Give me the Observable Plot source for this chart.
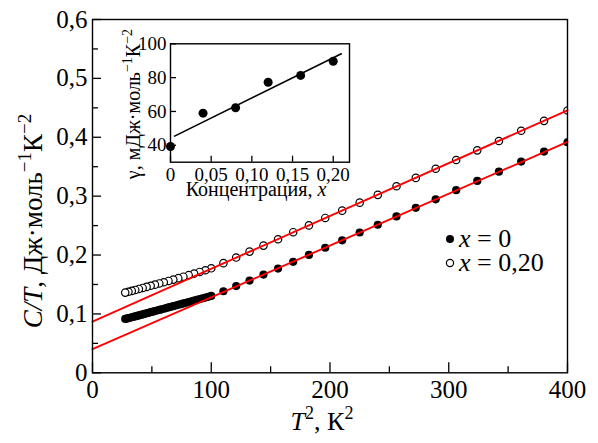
<!DOCTYPE html>
<html><head><meta charset="utf-8">
<script src="https://cdn.jsdelivr.net/npm/d3@7"></script>
<script src="https://cdn.jsdelivr.net/npm/@observablehq/plot@0.6"></script>
<style>
body{margin:0;background:#fff}
#wrap{position:relative;width:598px;height:443px}
#wrap svg{position:absolute;overflow:visible}
</style>
</head><body><div id="wrap"></div>
<script>
// Main chart data: T^2 (K^2) and C/T (J mol^-1 K^-2)
// x = 0 (filled circles)
const T2x0 = [27.56,28.89,30.25,31.64,33.06,34.52,36,37.52,39.06,40.64,42.25,43.89,45.56,47.27,49,50.77,52.56,54.39,56.25,58.14,
              60.06,62.02,64,66.02,68.06,70.14,72.25,74.39,76.56,78.77,81,83.27,85.56,87.89,90.25,92.64,95.06,97.52,100,
              110.25,121,132.25,144,156.25,169,182.25,196,210.25,225,240.25,256,272.25,289,306.25,324,342.25,361,380.25,400];
const ctX0 = [0.0915,0.0921,0.0928,0.0935,0.0943,0.0950,0.0958,0.0966,0.0975,0.0983,0.0992,0.1001,0.1010,0.1019,0.1029,0.1038,0.1048,0.1058,0.1068,0.1078,
              0.1088,0.1099,0.1110,0.1121,0.1132,0.1143,0.1155,0.1166,0.1178,0.1190,0.1202,0.1214,0.1227,0.1239,0.1252,0.1265,0.1278,0.1291,0.1305,
              0.1385,0.1472,0.1566,0.1668,0.1770,0.1884,0.2001,0.2124,0.2250,0.2383,0.2514,0.2655,0.2801,0.2946,0.3102,0.3259,0.3416,0.3587,0.3757,0.3915];
// x = 0.20 (open circles)
const T2x20 = [27.56,30.25,33.06,36,39.06,42.25,45.56,49,52.56,56.25,60.06,64,68.06,72.25,76.56,81,85.56,90.25,95.06,100,
               110.25,121,132.25,144,156.25,169,182.25,196,210.25,225,240.25,256,272.25,289,306.25,324,342.25,361,380.25,400];
const ctX20 = [0.1362,0.1376,0.1391,0.1407,0.1424,0.1441,0.1459,0.1478,0.1497,0.1517,0.1538,0.1560,0.1583,0.1607,0.1632,0.1658,0.1685,0.1713,0.1742,0.1775,
               0.1862,0.1957,0.2058,0.2160,0.2268,0.2388,0.2503,0.2630,0.2754,0.2890,0.3022,0.3168,0.3310,0.3465,0.3614,0.3778,0.3937,0.4111,0.4279,0.4455];
// Linear fits (red lines)
const fitT2 = [0, 400];
const fitX0 = [0.0402, 0.392];
const fitX20 = [0.087, 0.4458];
// Main ticks
const xMajor = [0, 100, 200, 300, 400];
const xMinor = [50, 150, 250, 350];
const yMajor = [0, 0.1, 0.2, 0.3, 0.4, 0.5, 0.6];
const yMinor = [0.05, 0.15, 0.25, 0.35, 0.45, 0.55];
const yLabels = ["0", "0,1", "0,2", "0,3", "0,4", "0,5", "0,6"];

// Inset data: gamma vs concentration
const conc = [0, 0.04, 0.08, 0.12, 0.16, 0.20];
const gamma = [39.3, 59.0, 62.2, 77.3, 81.3, 89.7];
const gFitX = [0.005, 0.21];
const gFitY = [45.4, 94.1];
const ixTicks = [0, 0.05, 0.10, 0.15, 0.20];
const ixLabels = ["0", "0,05", "0,10", "0,15", "0,20"];
const iyTicks = [40, 60, 80, 100];
const iyLabels = ["40", "60", "80", "100"];

const FONT = "Liberation Serif";
const idx0 = d3.range(T2x0.length);
const idx20Rev = d3.range(T2x20.length).reverse();

function tidy(svg) {
  const s = d3.select(svg);
  s.selectAll("text").filter(function () { return this.textContent === ""; }).remove();
  s.selectAll("text").attr("font-family", FONT);
}

const main = Plot.plot({
  width: 598, height: 443,
  marginLeft: 92, marginRight: 31, marginTop: 19, marginBottom: 70.7,
  style: {fontFamily: FONT, fontSize: "25px", background: "transparent", color: "black"},
  x: {domain: [0, 400], label: null},
  y: {domain: [0, 0.6], label: null},
  marks: [
    Plot.dot(idx0, {x: i => T2x0[i], y: i => ctX0[i], r: 4.1, fill: "black", stroke: "none", clip: true}),
    Plot.dot(idx20Rev, {x: i => T2x20[i], y: i => ctX20[i], r: 3.7, fill: "white", stroke: "black", strokeWidth: 1.2, clip: true}),
    Plot.line(fitT2, {x: d => d, y: (d, i) => fitX0[i], stroke: "#ff0000", strokeWidth: 1.9}),
    Plot.line(fitT2, {x: d => d, y: (d, i) => fitX20[i], stroke: "#ff0000", strokeWidth: 1.9}),
    Plot.axisX(xMajor, {tickSize: 0, tickPadding: 7, fontSize: 25, tickFormat: d => String(d)}),
    Plot.axisX(xMajor, {tickSize: -10, tickFormat: () => "", strokeWidth: 1.3}),
    Plot.axisX(xMinor, {tickSize: -6, tickFormat: () => "", strokeWidth: 1.3}),
    Plot.axisY(yMajor, {tickSize: 0, tickPadding: 5, fontSize: 25, tickFormat: (d, i) => yLabels[i]}),
    Plot.axisY(yMajor, {tickSize: -9, tickFormat: () => "", strokeWidth: 1.3}),
    Plot.axisY(yMinor, {tickSize: -6, tickFormat: () => "", strokeWidth: 1.3}),
    Plot.frame({stroke: "black", strokeWidth: 1.4})
  ]
});
main.style.left = "0px"; main.style.top = "0px";
document.getElementById("wrap").appendChild(main);
tidy(main);

const ms = d3.select(main);
// y-axis title
const yt = ms.append("text")
  .attr("transform", "translate(42,221) rotate(-90)")
  .attr("text-anchor", "middle").attr("font-family", FONT).attr("font-size", 27).attr("fill", "black");
yt.append("tspan").attr("font-style", "italic").text("C/T");
yt.append("tspan").text(", Дж·моль");
yt.append("tspan").attr("font-size", 19).attr("dy", -11).text("−1");
yt.append("tspan").attr("dy", 11).text("К");
yt.append("tspan").attr("font-size", 19).attr("dy", -11).text("−2");
// x-axis title
const xt = ms.append("text")
  .attr("x", 322).attr("y", 430)
  .attr("text-anchor", "middle").attr("font-family", FONT).attr("font-size", 26).attr("fill", "black");
xt.append("tspan").attr("font-style", "italic").text("T");
xt.append("tspan").attr("font-size", 18).attr("dy", -11).text("2");
xt.append("tspan").attr("dy", 11).text(", К");
xt.append("tspan").attr("font-size", 18).attr("dy", -11).text("2");
// legend
const lg = ms.append("g").attr("font-family", FONT).attr("font-size", 26).attr("fill", "black").attr("text-anchor", "start");
lg.append("circle").attr("cx", 450).attr("cy", 239).attr("r", 4).attr("fill", "black");
const l1 = lg.append("text").attr("x", 459).attr("y", 247).attr("text-anchor", "start");
l1.append("tspan").attr("font-style", "italic").text("x");
l1.append("tspan").text(" = 0");
lg.append("circle").attr("cx", 450).attr("cy", 263).attr("r", 3.6).attr("fill", "white").attr("stroke", "black").attr("stroke-width", 1.2);
const l2 = lg.append("text").attr("x", 459).attr("y", 271).attr("text-anchor", "start");
l2.append("tspan").attr("font-style", "italic").text("x");
l2.append("tspan").text(" = 0,20");

// Inset
const inset = Plot.plot({
  width: 250, height: 180,
  marginLeft: 60, marginRight: 11, marginTop: 18.3, marginBottom: 43.3,
  style: {fontFamily: FONT, fontSize: "19px", background: "transparent", color: "black", overflow: "visible"},
  x: {domain: [0, 0.22], label: null},
  y: {domain: [30, 100], label: null},
  marks: [
    Plot.line(gFitX, {x: d => d, y: (d, i) => gFitY[i], stroke: "black", strokeWidth: 1.6}),
    Plot.dot(conc, {x: d => d, y: (d, i) => gamma[i], r: 4.5, fill: "black"}),
    Plot.axisX(ixTicks, {tickSize: 0, tickPadding: 5, fontSize: 19, tickFormat: (d, i) => ixLabels[i]}),
    Plot.axisX(ixTicks, {tickSize: -6, tickFormat: () => "", strokeWidth: 1.3}),
    Plot.axisY(iyTicks, {tickSize: 0, tickPadding: 4, fontSize: 19, tickFormat: (d, i) => iyLabels[i]}),
    Plot.axisY(iyTicks, {tickSize: -6, tickFormat: () => "", strokeWidth: 1.3}),
    Plot.frame({stroke: "black", strokeWidth: 1.4})
  ]
});
inset.style.left = "110px"; inset.style.top = "25px";
document.getElementById("wrap").appendChild(inset);
tidy(inset);
const is = d3.select(inset);
const iyt = is.append("text")
  .attr("transform", "translate(30,79) rotate(-90)")
  .attr("text-anchor", "middle").attr("font-family", FONT).attr("font-size", 20).attr("fill", "black");
iyt.append("tspan").text("γ, мДж·моль");
iyt.append("tspan").attr("font-size", 14).attr("dy", -8).text("−1");
iyt.append("tspan").attr("dy", 8).text("К");
iyt.append("tspan").attr("font-size", 14).attr("dy", -8).text("−2");
const ixt = is.append("text")
  .attr("x", 146).attr("y", 171)
  .attr("text-anchor", "middle").attr("font-family", FONT).attr("font-size", 20).attr("fill", "black");
ixt.append("tspan").text("Концентрация, ");
ixt.append("tspan").attr("font-style", "italic").text("x");
</script></body></html>
